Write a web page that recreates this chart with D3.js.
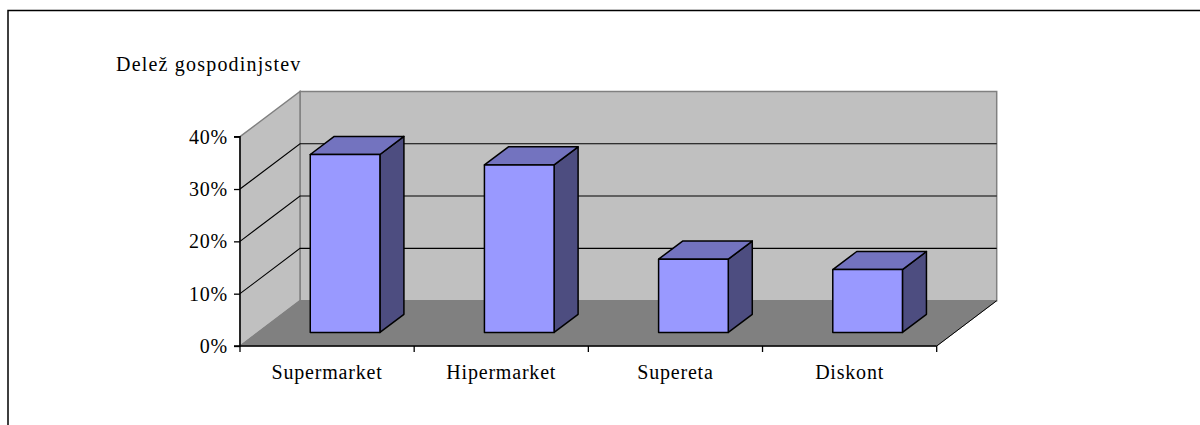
<!DOCTYPE html>
<html><head><meta charset="utf-8">
<script src="https://cdn.jsdelivr.net/npm/d3@7"></script>
<style>
html,body{margin:0;padding:0;background:#fff;}
text{font-family:"Liberation Serif","Times New Roman",serif;font-size:20px;letter-spacing:0.8px;fill:#000;}
text.title{letter-spacing:1.2px;}
</style></head>
<body><svg id="c" width="1200" height="425"></svg>
<script>
const categories = ["Supermarket","Hipermarket","Supereta","Diskont"];
const values = [0.34, 0.32, 0.14, 0.12];
const yTicks = [0, 0.1, 0.2, 0.3, 0.4];
const yTitle = "Delež gospodinjstev";

const svg = d3.select("#c");
const x0 = 240, x1 = 936.7, yBase = 346, yTop = 136.7;
const DX = 60, DY = -45.3;           // depth vector (front -> back)
const y = d3.scaleLinear().domain([0, 0.4]).range([yBase, yTop]);
const x = d3.scaleBand().domain(categories).range([x0, x1]).paddingInner(0.6).paddingOuter(0.3);
const P = (px, py, f) => [px + DX * f, py + DY * f];
const poly = pts => "M" + pts.map(p => p.join(",")).join("L") + "Z";

// outer frame (top and left only)
svg.append("path").attr("d", "M8,425V10.5H1200").attr("fill","none").attr("stroke","#000").attr("stroke-width",1.5);

// back wall
svg.append("path").attr("d", poly([P(x0,y(0.4),1),P(x1,y(0.4),1),P(x1,y(0),1),P(x0,y(0),1)]))
  .attr("fill","#c0c0c0").attr("stroke","#808080").attr("stroke-width",1.5);
// left wall
svg.append("path").attr("d", poly([P(x0,y(0.4),0),P(x0,y(0.4),1),P(x0,y(0),1),P(x0,y(0),0)]))
  .attr("fill","#c0c0c0").attr("stroke","#808080").attr("stroke-width",1.5);
// floor
svg.append("path").attr("d", poly([P(x0,y(0),0),P(x0,y(0),1),P(x1,y(0),1),P(x1,y(0),0)]))
  .attr("fill","#808080").attr("stroke","#808080").attr("stroke-width",1);
// floor right edge
svg.append("line").attr("x1",x1).attr("y1",y(0)).attr("x2",P(x1,y(0),1)[0]).attr("y2",P(x1,y(0),1)[1])
  .attr("stroke","#000").attr("stroke-width",1);

// gridlines
yTicks.filter(t => t > 0 && t < 0.4).forEach(t => {
  const a = P(x0, y(t), 0), b = P(x0, y(t), 1), c = P(x1, y(t), 1);
  svg.append("path").attr("d", `M${a}L${b}L${c}`).attr("fill","none").attr("stroke","#000").attr("stroke-width",1.1);
});

// y axis
const yAxis = d3.axisLeft(y).tickValues(yTicks).tickFormat(d3.format(".0%")).tickSize(6).tickPadding(6);
const gy = svg.append("g").attr("transform", `translate(${x0},0)`).call(yAxis);
gy.attr("font-family", null).attr("font-size", null);
gy.select(".domain").attr("stroke","#000").attr("stroke-width",1.5).attr("d", `M-6,${y(0.4)}H0V${y(0)}H-6`);
gy.selectAll(".tick line").attr("stroke","#000").attr("stroke-width",1.3);
gy.selectAll("text").attr("dy", "0.32em");

// x axis
const gx = svg.append("g").attr("transform", `translate(0,${yBase})`);
gx.append("line").attr("x1",x0).attr("x2",x1).attr("stroke","#000").attr("stroke-width",1.5);
const bounds = categories.map((_,i)=> x0 + i * x.step()).concat([x1]);
gx.selectAll(".tk").data(bounds).join("line").attr("x1",d=>d).attr("x2",d=>d).attr("y1",0).attr("y2",6)
  .attr("stroke","#000").attr("stroke-width",1.3);
gx.selectAll(".lbl").data(categories).join("text").attr("x", d => x(d) + x.bandwidth()/2).attr("y", 33)
  .attr("text-anchor","middle").text(d => d);

// bars
const f0 = 0.3, f1 = 0.7;
const bars = svg.append("g").selectAll("g").data(categories.map((c,i)=>({c, v: values[i]}))).join("g");
bars.each(function(d){
  const g = d3.select(this);
  const l = x(d.c), r = x(d.c) + x.bandwidth();
  const b = y(0), t = y(d.v);
  g.append("path").attr("d", poly([P(r,t,f0),P(r,t,f1),P(r,b,f1),P(r,b,f0)]))
    .attr("fill","#4d4d80").attr("stroke","#000").attr("stroke-width",1.5).attr("stroke-linejoin","round");
  g.append("path").attr("d", poly([P(l,t,f0),P(l,t,f1),P(r,t,f1),P(r,t,f0)]))
    .attr("fill","#7373bf").attr("stroke","#000").attr("stroke-width",1.5).attr("stroke-linejoin","round");
  g.append("path").attr("d", poly([P(l,t,f0),P(r,t,f0),P(r,b,f0),P(l,b,f0)]))
    .attr("fill","#9999ff").attr("stroke","#000").attr("stroke-width",1.5).attr("stroke-linejoin","round");
});

// title
svg.append("text").attr("class","title").attr("x",116).attr("y",70.7).text(yTitle);
</script></body></html>
